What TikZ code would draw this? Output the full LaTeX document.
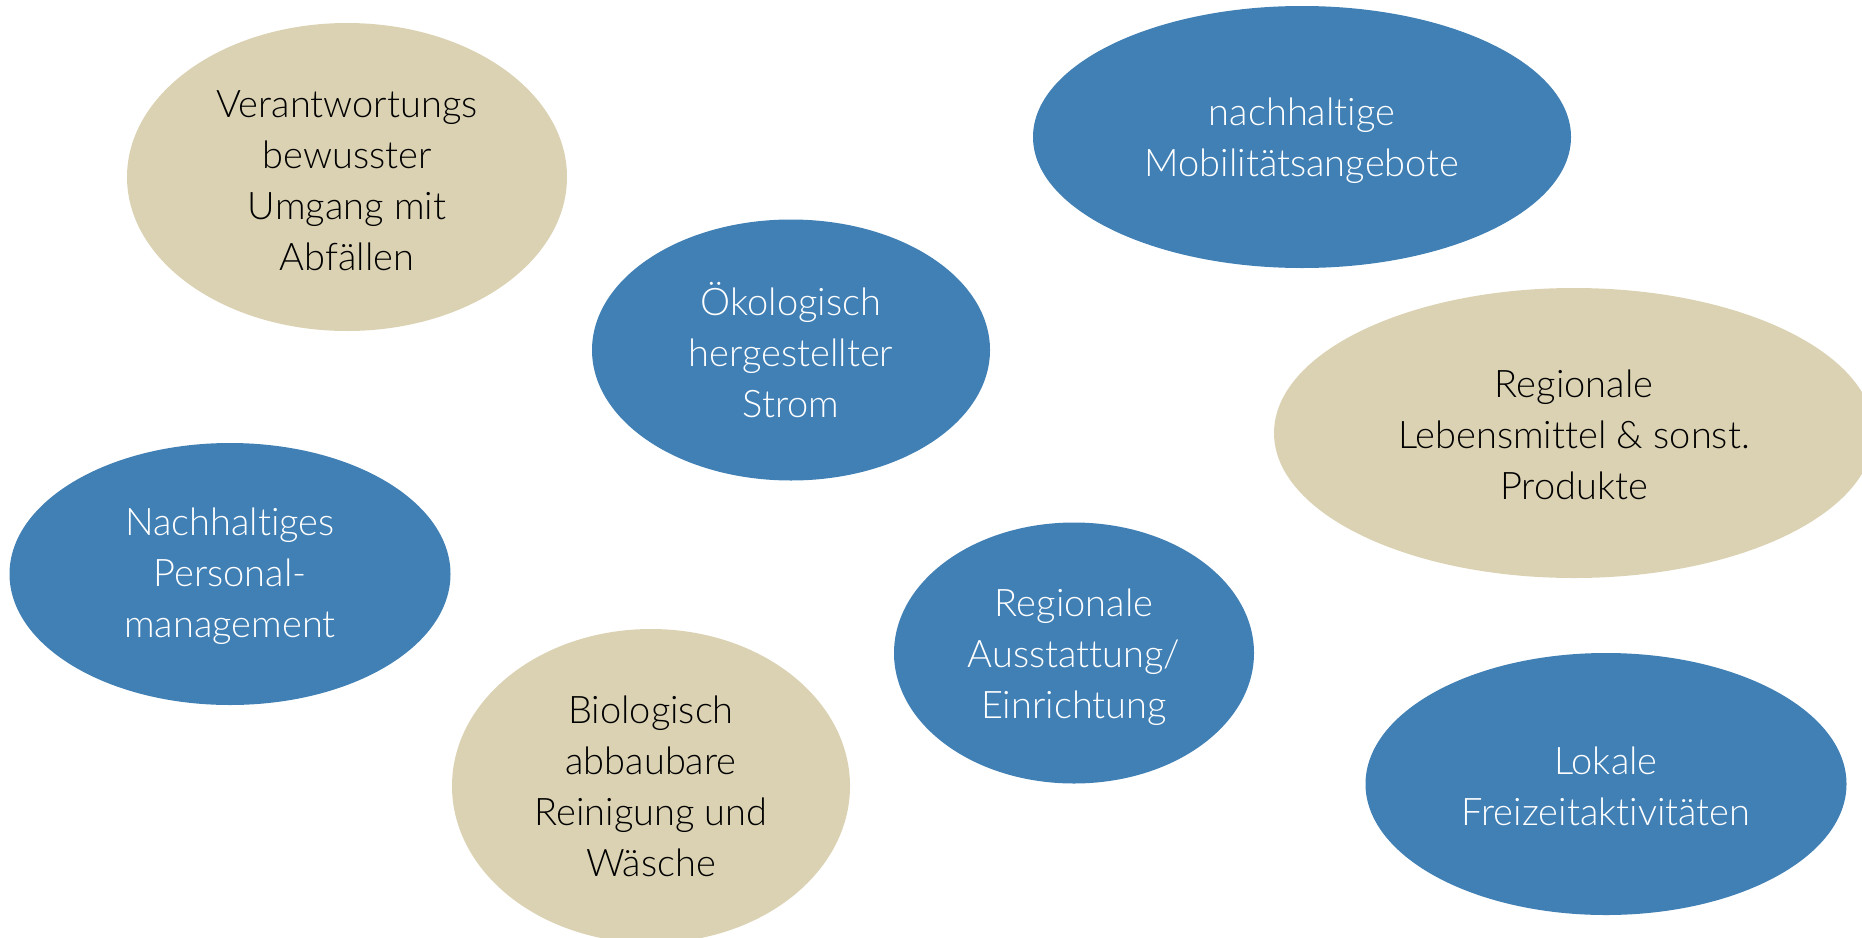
\documentclass[tikz,border=0pt]{standalone}
\usepackage{fontspec}
\setmainfont{Lato Light}[Ligatures=NoCommon]
\usetikzlibrary{shapes.geometric}
\definecolor{bubblue}{RGB}{65,128,181}
\definecolor{bubbeige}{RGB}{219,210,179}
\tikzset{
  bub/.style={ellipse, inner sep=0pt},
  bluebub/.style={bub, fill=bubblue},
  beigebub/.style={bub, fill=bubbeige},
  bubtext/.style={align=center, inner sep=0pt, font=\fontsize{38}{51}\selectfont},
  whitetext/.style={bubtext, text=white},
  blacktext/.style={bubtext, text=black},
}
\begin{document}
\begin{tikzpicture}[x=1pt, y=-1pt]
\useasboundingbox (0,0) rectangle (1862,937);
\node[beigebub, minimum width=440pt, minimum height=308pt] (abfall) at (347,177) {};
\node[blacktext] (abfalltext) at (347,181) {Verantwortungs\\bewusster\\Umgang mit\\Abfällen};
\node[bluebub, minimum width=538pt, minimum height=262pt] (mobil) at (1302,137) {};
\node[whitetext] (mobiltext) at (1302,141) {nachhaltige\\Mobilitätsangebote};
\node[bluebub, minimum width=398pt, minimum height=261pt] (strom) at (791,350) {};
\node[whitetext] (stromtext) at (791,350) {Ökologisch\\hergestellter\\Strom};
\node[beigebub, minimum width=600pt, minimum height=290pt] (lebens) at (1574,433) {};
\node[blacktext] (lebenstext) at (1574,435) {Regionale\\Lebensmittel \& sonst.\\Produkte};
\node[bluebub, minimum width=441pt, minimum height=262pt] (personal) at (230,574) {};
\node[whitetext] (personaltext) at (230,576) {Nachhaltiges\\Personal-\\management};
\node[bluebub, minimum width=360pt, minimum height=261pt] (ausst) at (1074,653) {};
\node[whitetext] (ausstext) at (1074,657) {Regionale\\Ausstattung/\\Einrichtung};
\node[beigebub, minimum width=398pt, minimum height=314pt] (waesche) at (651,786) {};
\node[blacktext] (waeschetext) at (651,786) {Biologisch\\abbaubare\\Reinigung und\\Wäsche};
\node[bluebub, minimum width=481pt, minimum height=262pt] (freizeit) at (1606,784) {};
\node[whitetext] (freizeittext) at (1606,786) {Lokale\\Freizeitaktivitäten};
\end{tikzpicture}
\end{document}
